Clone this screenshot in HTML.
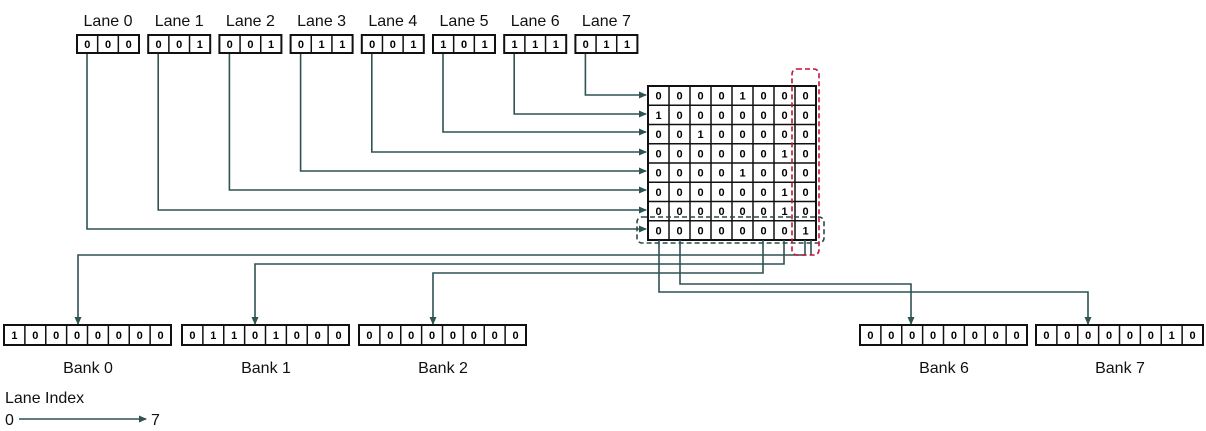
<!DOCTYPE html>
<html><head><meta charset="utf-8"><style>
html,body{margin:0;padding:0;background:#fff;}
svg{display:block;font-family:"Liberation Sans",sans-serif;}
.c{font-size:11px;font-weight:bold;text-anchor:middle;}
.l{font-size:16px;text-anchor:middle;fill:#111;}
</style></head><body>
<svg width="1206" height="431" viewBox="0 0 1206 431" xmlns="http://www.w3.org/2000/svg">
<defs><marker id="a" markerWidth="8" markerHeight="8" refX="7" refY="4" orient="auto" markerUnits="userSpaceOnUse"><path d="M0,0.5 L8,4 L0,7.5z" fill="#2f5252"/></marker></defs>
<g id="content"></g>
</svg>
<script>
const g=document.getElementById('content');let s='';
const L='#2f5252';
function box(x,y,w,h,vals){let cw=w/vals.length;s+=`<rect x="${x}" y="${y}" width="${w}" height="${h}" fill="#fff" stroke="#111" stroke-width="2"/>`;
vals.forEach((v,i)=>{if(i>0)s+=`<line x1="${x+i*cw}" y1="${y}" x2="${x+i*cw}" y2="${y+h}" stroke="#111" stroke-width="1.5"/>`;
s+=`<text class="c" x="${x+i*cw+cw/2}" y="${y+h/2+4}">${v}</text>`;});}
const lanes=['000','001','001','011','001','101','111','011'];
const rows=[229,210,190,171,152,132,114,95];
// connectors from lanes
lanes.forEach((v,i)=>{const x=77+i*71.2;const lx=x+10;
s+=`<text class="l" x="${x+31}" y="26">Lane ${i}</text>`;
s+=`<polyline points="${lx},53 ${lx},${rows[i]} 646,${rows[i]}" fill="none" stroke="${L}" stroke-width="1.6" marker-end="url(#a)"/>`;
box(x,35,62,18,v.split(''));});
// matrix
const M=['00001000','10000000','00100000','00000010','00001000','00000010','00000010','00000001'];
const mx=648,my=86,cw=21,rh=19.25;
s+=`<rect x="${mx}" y="${my}" width="168" height="154" fill="#fff" stroke="#111" stroke-width="2"/>`;
for(let i=1;i<8;i++){s+=`<line x1="${mx+i*cw}" y1="${my}" x2="${mx+i*cw}" y2="${my+154}" stroke="#111" stroke-width="1.5"/>`;
s+=`<line x1="${mx}" y1="${my+i*rh}" x2="${mx+168}" y2="${my+i*rh}" stroke="#111" stroke-width="1.5"/>`;}
M.forEach((r,j)=>r.split('').forEach((v,i)=>{s+=`<text class="c" x="${mx+i*cw+cw/2}" y="${my+j*rh+rh/2+4}">${v}</text>`;}));
// bottom connectors
const bc=[[805,255,78],[784,264,255],[763,273,433],[680,284,911],[659,292,1088]];
bc.forEach(([x,y,bx])=>{s+=`<polyline points="${x},240 ${x},${y} ${bx},${y} ${bx},324" fill="none" stroke="${L}" stroke-width="1.6" marker-end="url(#a)"/>`;});
s+=`<line x1="811" y1="240" x2="811" y2="255" stroke="${L}" stroke-width="1.6"/>`;
// dashed boxes
s+=`<rect x="637" y="217" width="187" height="26" rx="5" fill="none" stroke="#2f4a4a" stroke-width="1.6" stroke-dasharray="5,3"/>`;
s+=`<rect x="792" y="69" width="27" height="186" rx="5" fill="none" stroke="#c0143c" stroke-width="1.6" stroke-dasharray="5,3"/>`;
// banks
const banks=[[4,'10000000','Bank 0'],[182,'01101000','Bank 1'],[359,'00000000','Bank 2'],[860,'00000000','Bank 6'],[1036,'00000010','Bank 7']];
banks.forEach(([x,v,n])=>{box(x,325,167,20,v.split(''));s+=`<text class="l" x="${x+84}" y="373">${n}</text>`;});
s+=`<text class="l" x="5" y="403" style="text-anchor:start">Lane Index</text>`;
s+=`<text class="l" x="5" y="425" style="text-anchor:start">0</text>`;
s+=`<line x1="19" y1="419" x2="146" y2="419" stroke="${L}" stroke-width="1.6" marker-end="url(#a)"/>`;
s+=`<text class="l" x="151" y="425" style="text-anchor:start">7</text>`;
g.innerHTML=s;
</script>
</body></html>
